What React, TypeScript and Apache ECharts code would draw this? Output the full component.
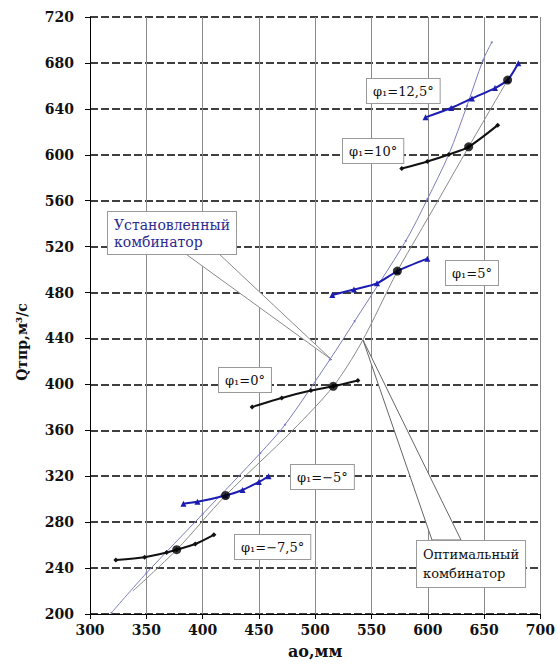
import React, { useEffect, useRef } from "react";
import * as echarts from "echarts";

const SERIF = "DejaVu Serif";

// axis ranges / ticks
const xMin = 300, xMax = 700, xStep = 50;
const yMin = 200, yMax = 720, yStep = 40;

// φ1 curves (x = a0, mm ; y = Q, m3/s)
const phiM75: number[][] = [[323, 247], [348.5, 249.5], [368, 253.5], [377, 256], [393.5, 261], [410, 269]];
const phiM5: number[][] = [[383, 296], [395.5, 297.7], [420.4, 303.2], [435.5, 308], [450, 315], [458.6, 320]];
const phi0: number[][] = [[444, 380.4], [470.3, 388.2], [496.2, 394.6], [516, 398.3], [537.9, 403.3]];
const phi5: number[][] = [[515.2, 477.8], [534.4, 482.7], [554.9, 488], [573, 498.7], [599.6, 509.5]];
const phi10: number[][] = [[576.9, 588], [599.6, 594.1], [618.7, 600.2], [636.3, 606.9], [662.1, 625.8]];
const phi125: number[][] = [[598, 632.6], [620.7, 640.7], [639.2, 649], [659.7, 658.1], [670.9, 665.1], [680.4, 679.7]];

// optimal points (big dots)
const optimalPoints: number[][] = [[377, 256], [420.4, 303.2], [516, 398.3], [573, 498.7], [636.3, 606.9], [670.9, 665.1]];

// combinator lines
const installedComb: number[][] = [[319, 201], [350, 235.5], [400, 287], [451.3, 340.2], [473.3, 365], [513, 421.6], [535, 455], [580.4, 524.9], [599.6, 561.3], [618.7, 600.5], [634.8, 642.7], [648.9, 682], [656.8, 698]];
const optimalComb: number[][] = [[338, 220], [377, 256], [420.4, 303.2], [480, 360], [516, 398.3], [540.8, 436], [573, 498.7], [590.7, 529], [609.8, 561.3], [636.3, 606.9], [670.9, 665.1]];

const phiLabels = ["φ₁=12,5°", "φ₁=10°", "φ₁=5°", "φ₁=0°", "φ₁=−5°", "φ₁=−7,5°"];
const installedLabel = "Установленный\nкомбинатор";
const optimalLabel = "Оптимальный\nкомбинатор";
const yName = "Qтпр,м³/с";
const xName = "ao,мм";

const BLUE = "#1c1cb0";
const BLACK = "#111111";

function phiSeries(data: number[][], blue: boolean) {
  return {
    type: "line",
    data,
    smooth: 0.25,
    symbol: blue ? "triangle" : "diamond",
    symbolSize: blue ? 6 : 5,
    lineStyle: { color: blue ? BLUE : BLACK, width: 2 },
    itemStyle: { color: blue ? BLUE : BLACK },
    z: 4,
  };
}

const boxText = (left: number, top: number, text: string, color = "#111", fontSize = 13, lineHeight = 16) => ({
  type: "text",
  left,
  top,
  z: 10,
  style: {
    text,
    fill: color,
    fontFamily: SERIF,
    fontSize,
    backgroundColor: "#ffffff",
    borderColor: "#9a9a9a",
    borderWidth: 1,
    padding: [4, 6, 4, 6],
    lineHeight,
  },
});

export default function App() {
  const ref = useRef<HTMLDivElement>(null);
  useEffect(() => {
    if (!ref.current) return;
    const chart = echarts.init(ref.current, undefined, { renderer: "svg" });
    chart.setOption({
      animation: false,
      backgroundColor: "#ffffff",
      textStyle: { fontFamily: SERIF },
      grid: { left: 90, right: 14, top: 17, bottom: 56 },
      xAxis: {
        type: "value",
        min: xMin,
        max: xMax,
        interval: xStep,
        name: xName,
        nameLocation: "middle",
        nameGap: 29,
        nameTextStyle: {
          fontFamily: SERIF,
          fontWeight: "bold",
          fontSize: 16,
          color: BLACK,
        },
        axisLine: { show: true, lineStyle: { color: "#000", width: 1 } },
        axisTick: { show: true, length: 5, lineStyle: { color: "#000" } },
        axisLabel: { fontFamily: SERIF, fontWeight: "bold", fontSize: 14, color: BLACK, margin: 9 },
        splitLine: { show: true, lineStyle: { color: "#8a8a8a", width: 1 } },
      },
      yAxis: {
        type: "value",
        min: yMin,
        max: yMax,
        interval: yStep,
        axisLine: { show: true, lineStyle: { color: "#000", width: 1 } },
        axisTick: { show: true, length: 5, lineStyle: { color: "#000" } },
        axisLabel: { fontFamily: SERIF, fontWeight: "bold", fontSize: 14, color: BLACK, margin: 16 },
        splitLine: { show: true, lineStyle: { color: "#000", width: 1.5, type: [8, 3] } },
      },
      graphic: [
        {
          type: "polygon",
          z: 1,
          shape: { points: [[183, 252], [217, 252], [332, 360]] },
          style: { fill: "#ffffff", stroke: "#8a8a8a", lineWidth: 1 },
        },
        {
          type: "polygon",
          z: 1,
          shape: { points: [[363, 340], [432, 540], [461, 540]] },
          style: { fill: "#ffffff", stroke: "#666666", lineWidth: 1 },
        },
        boxText(366, 78, phiLabels[0]),
        boxText(342, 138, phiLabels[1]),
        boxText(445, 260, phiLabels[2]),
        boxText(218, 367, phiLabels[3]),
        boxText(290, 464, phiLabels[4]),
        boxText(234, 534, phiLabels[5]),
        boxText(107, 211, installedLabel, "#2b2b8f", 14, 17),
        boxText(416, 540, optimalLabel, "#111", 13, 19),
        {
          type: "text",
          x: 22,
          y: 342,
          rotation: Math.PI / 2,
          style: {
            text: yName,
            fill: BLACK,
            fontFamily: SERIF,
            fontWeight: "bold",
            fontSize: 14,
            align: "center",
            verticalAlign: "middle",
          },
        },
      ],
      series: [
        {
          type: "line",
          name: "Установленный комбинатор",
          data: installedComb,
          smooth: 0.3,
          symbol: "circle",
          symbolSize: 2,
          lineStyle: { color: "#7c7cc0", width: 1 },
          itemStyle: { color: "#7c7cc0" },
          z: 3,
        },
        {
          type: "line",
          name: "Оптимальный комбинатор",
          data: optimalComb,
          smooth: 0.3,
          showSymbol: false,
          lineStyle: { color: "#8a8a8a", width: 1 },
          z: 3,
        },
        phiSeries(phiM75, false),
        phiSeries(phiM5, true),
        phiSeries(phi0, false),
        phiSeries(phi5, true),
        phiSeries(phi10, false),
        phiSeries(phi125, true),
        {
          type: "scatter",
          data: optimalPoints,
          symbol: "circle",
          symbolSize: 9,
          itemStyle: { color: "#000" },
          z: 5,
        },
      ],
    });
    return () => chart.dispose();
  }, []);
  return (
    <div
      ref={ref}
      style={{ position: "fixed", left: 0, top: 0, width: 558, height: 670, background: "#fff" }}
    />
  );
}
